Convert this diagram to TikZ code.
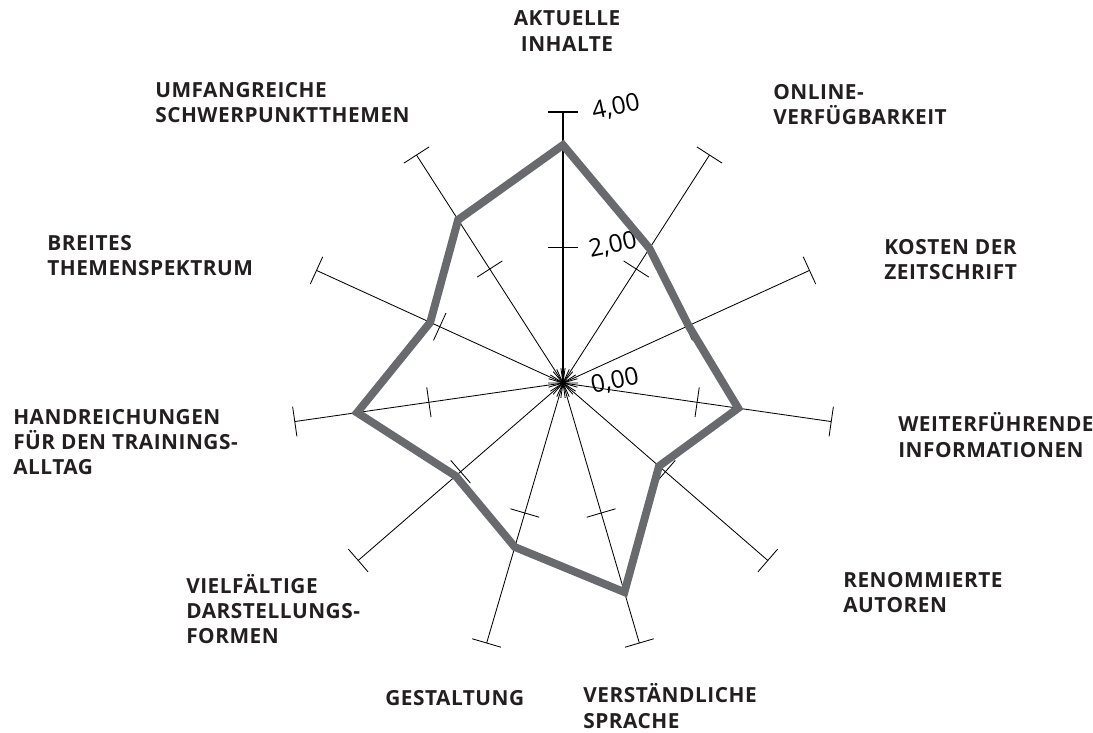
\documentclass[tikz,border=0pt]{standalone}
\usepackage{fontspec}
\setmainfont{Open Sans}
\newfontfamily\labelfont[LetterSpace=2.5]{Open Sans}
\usetikzlibrary{calc}
\definecolor{labelink}{HTML}{231F20}
\definecolor{datagray}{HTML}{696A6D}
\def\axistick(#1:#2){\draw[thin axis] ($(#1:#2)+(#1+90:15)$) -- ($(#1:#2)+(#1-90:15)$);}

\tikzset{
  thin axis/.style={line width=0.6pt, color=black},
  label text/.style={font=\labelfont\bfseries\fontsize{14.8}{18}\selectfont, text=labelink, inner sep=0pt, align=left, anchor=west},
  value text/.style={font=\fontsize{17.5}{20}\selectfont, text=black, inner sep=0pt, rotate=12},
  data line/.style={line width=5.6pt, color=datagray, line join=miter}
}

\begin{document}
\begin{tikzpicture}[x=0.025cm, y=0.025cm]
			%%%%% START %%%%%
			\useasboundingbox (0, 0) rectangle (1093, 732);
			
			\begin{scope}[shift={(563, 349)}]
				% spokes with end and middle ticks
				\foreach \i in {1,...,10} {
					\pgfmathsetmacro{\ang}{90-\i*360/11}
					\draw[thin axis] (0, 0) -- (\ang:271);
					\axistick(\ang:271)
					\axistick(\ang:135.5)
				}
				\draw[line width=1.1pt] (0, 0) -- (90:271);
				\draw[line width=1.1pt] (-15, 271) -- (15, 271);
				\draw[line width=1.1pt] (-15, 135.5) -- (15, 135.5);
				
				% centre burst
				\foreach \i in {0,...,10} {
					\pgfmathsetmacro{\ang}{90-\i*360/11}
					\draw[thin axis] (0, 0) -- (\ang+8:15);
					\draw[thin axis] (0, 0) -- (\ang-8:15);
				}
				
				% scale values
				\node[value text] (v4) at (53, 276) {4,00};
				\node[value text] (v2) at (50, 138) {2,00};
				\node[value text] (v0) at (52, 2) {0,00};
				
				% mean ratings
				\foreach \v [count=\i from 0] in {238,160,138,177,127,218,171,142,208,146,194}
					\coordinate (d\i) at ({90-\i*360/11}:\v);
				\draw[data line] (d0) -- (d1) -- (d2) -- (d3) -- (d4) -- (d5) -- (d6)
					-- (d7) -- (d8) -- (d9) -- (d10) -- cycle;
			\end{scope}
			
			% axis captions
			\node[label text, align=center, anchor=center] (aktuell) at (567, 701) {AKTUELLE\\INHALTE};
			\node[label text] (online) at (773, 627.5) {ONLINE-\\VERFÜGBARKEIT};
			\node[label text] (kosten) at (884, 472.5) {KOSTEN DER\\ZEITSCHRIFT};
			\node[label text] (weiter) at (898, 297) {WEITERFÜHRENDE\\INFORMATIONEN};
			\node[label text] (autoren) at (843, 139.5) {RENOMMIERTE\\AUTOREN};
			\node[label text] (sprache) at (583, 26) {VERSTÄNDLICHE\\SPRACHE};
			\node[label text] (gestalt) at (385, 34) {GESTALTUNG};
			\node[label text] (formen) at (186, 123) {VIELFÄLTIGE\\DARSTELLUNGS-\\FORMEN};
			\node[label text] (alltag) at (13, 290) {HANDREICHUNGEN\\FÜR DEN TRAININGS-\\ALLTAG};
			\node[label text] (spektrum) at (47, 476.5) {BREITES\\THEMENSPEKTRUM};
			\node[label text] (schwer) at (155, 629.5) {UMFANGREICHE\\SCHWERPUNKTTHEMEN};
			%%%%% END %%%%%
\end{tikzpicture}
\end{document}
